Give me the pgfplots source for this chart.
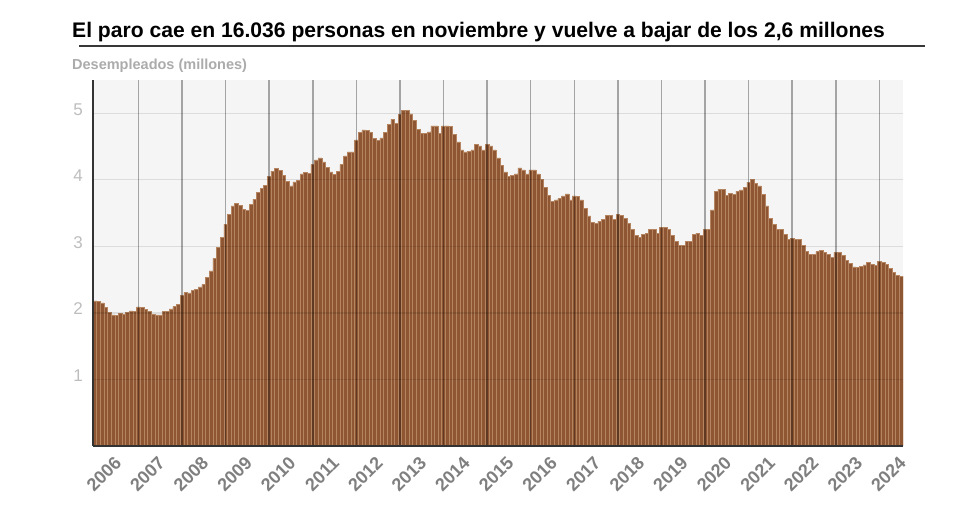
\documentclass[border=0pt]{standalone}
\usepackage{fontspec}
\setmainfont{Liberation Sans}
\usepackage{pgfplots}
\usepackage{pgfplotstable}
\pgfplotsset{compat=1.18}
\definecolor{barc}{HTML}{8E5632}
\definecolor{barl}{HTML}{B48560}
\definecolor{bgc}{HTML}{F5F5F5}
\definecolor{tickc}{HTML}{7F7F7F}
\definecolor{ytc}{HTML}{BDBDBD}
\definecolor{subc}{HTML}{ABABAB}
\pgfplotstableread[row sep=\\]{
y\\
2.18\\ 2.17\\ 2.15\\ 2.08\\ 2.01\\ 1.97\\ 1.96\\ 1.99\\ 1.98\\ 2.01\\ 2.03\\ 2.02\\
2.09\\ 2.08\\ 2.05\\ 2.02\\ 1.98\\ 1.97\\ 1.97\\ 2.02\\ 2.02\\ 2.06\\ 2.10\\ 2.13\\
2.26\\ 2.31\\ 2.30\\ 2.34\\ 2.35\\ 2.39\\ 2.43\\ 2.53\\ 2.63\\ 2.82\\ 2.99\\ 3.13\\
3.33\\ 3.48\\ 3.61\\ 3.65\\ 3.62\\ 3.56\\ 3.54\\ 3.63\\ 3.71\\ 3.81\\ 3.87\\ 3.92\\
4.05\\ 4.13\\ 4.17\\ 4.14\\ 4.07\\ 3.98\\ 3.91\\ 3.97\\ 3.99\\ 4.09\\ 4.11\\ 4.10\\
4.23\\ 4.30\\ 4.33\\ 4.27\\ 4.19\\ 4.12\\ 4.08\\ 4.13\\ 4.23\\ 4.36\\ 4.42\\ 4.42\\
4.60\\ 4.71\\ 4.75\\ 4.74\\ 4.71\\ 4.62\\ 4.59\\ 4.63\\ 4.71\\ 4.83\\ 4.91\\ 4.85\\
4.98\\ 5.04\\ 5.04\\ 4.99\\ 4.89\\ 4.76\\ 4.70\\ 4.70\\ 4.72\\ 4.81\\ 4.81\\ 4.70\\
4.81\\ 4.81\\ 4.80\\ 4.68\\ 4.57\\ 4.45\\ 4.42\\ 4.43\\ 4.45\\ 4.53\\ 4.51\\ 4.45\\
4.53\\ 4.51\\ 4.45\\ 4.33\\ 4.22\\ 4.12\\ 4.05\\ 4.07\\ 4.09\\ 4.18\\ 4.15\\ 4.09\\
4.15\\ 4.15\\ 4.09\\ 4.01\\ 3.89\\ 3.77\\ 3.68\\ 3.70\\ 3.72\\ 3.76\\ 3.79\\ 3.70\\
3.76\\ 3.75\\ 3.70\\ 3.57\\ 3.46\\ 3.36\\ 3.34\\ 3.38\\ 3.41\\ 3.47\\ 3.47\\ 3.41\\
3.48\\ 3.47\\ 3.42\\ 3.34\\ 3.25\\ 3.16\\ 3.14\\ 3.18\\ 3.20\\ 3.25\\ 3.25\\ 3.20\\
3.29\\ 3.29\\ 3.26\\ 3.16\\ 3.08\\ 3.02\\ 3.01\\ 3.07\\ 3.08\\ 3.18\\ 3.20\\ 3.16\\
3.25\\ 3.25\\ 3.55\\ 3.83\\ 3.86\\ 3.86\\ 3.77\\ 3.80\\ 3.78\\ 3.83\\ 3.85\\ 3.89\\
3.96\\ 4.01\\ 3.95\\ 3.91\\ 3.78\\ 3.61\\ 3.42\\ 3.33\\ 3.26\\ 3.26\\ 3.18\\ 3.11\\
3.12\\ 3.11\\ 3.11\\ 3.02\\ 2.92\\ 2.88\\ 2.88\\ 2.92\\ 2.94\\ 2.91\\ 2.88\\ 2.84\\
2.91\\ 2.91\\ 2.86\\ 2.79\\ 2.74\\ 2.69\\ 2.68\\ 2.70\\ 2.72\\ 2.76\\ 2.73\\ 2.71\\
2.77\\ 2.76\\ 2.73\\ 2.67\\ 2.61\\ 2.56\\ 2.55\\
}\paro
\begin{document}
\begin{tikzpicture}
\path[use as bounding box] (0,0) rectangle (980bp,518bp);
\node[anchor=base west, inner sep=0pt, font=\bfseries\fontsize{21.1bp}{25bp}\selectfont] at (72bp,480.5bp) {El paro cae en 16.036 personas en noviembre y vuelve a bajar de los 2,6 millones};
\draw[line width=2.5bp, color=black!78] (79bp,472bp) -- (925bp,472bp);
\node[anchor=base west, inner sep=0pt, text=subc, font=\bfseries\fontsize{14.5bp}{17bp}\selectfont] at (72bp,448.7bp) {Desempleados (millones)};
\begin{axis}[
  at={(93bp,72bp)}, anchor=south west,
  scale only axis, width=810bp, height=366bp,
  xmin=-0.5, xmax=222.5, ymin=0, ymax=5.5,
  ybar, bar width=1,
  axis on top,
  axis background/.style={fill=bgc},
  axis lines*=left,
  axis line style={line width=1.6bp, black!80},
  major tick length=0pt,
  /pgf/number format/assume math mode=true,
  ytick={1,2,3,4,5},
  ymajorgrids,
  y grid style={black, opacity=0.1, line width=1.3bp},
  yticklabel style={anchor=base east, inner sep=0pt, xshift=-10bp, yshift=-2bp,
    font=\fontsize{17bp}{19bp}\selectfont, text=ytc},
  xtick={12,24,...,216},
  xticklabels={},
  xmajorgrids,
  x grid style={black, opacity=0.33, line width=1.5bp},
  extra x ticks={6,18,30,42,54,66,78,90,102,114,126,138,150,162,174,186,198,210,222},
  extra x tick labels={2006,2007,2008,2009,2010,2011,2012,2013,2014,2015,2016,2017,2018,2019,2020,2021,2022,2023,2024},
  extra x tick style={grid=none},
  xticklabel style={yshift=-14bp, xshift=1.5bp, rotate=45, anchor=east, inner sep=0pt,
    font=\bfseries\fontsize{18bp}{20bp}\selectfont, text=tickc},
]
\addplot[fill=barc, draw=barl, line width=0.5bp] table[x expr=\coordindex, y=y] {\paro};
\end{axis}
\end{tikzpicture}
\end{document}
